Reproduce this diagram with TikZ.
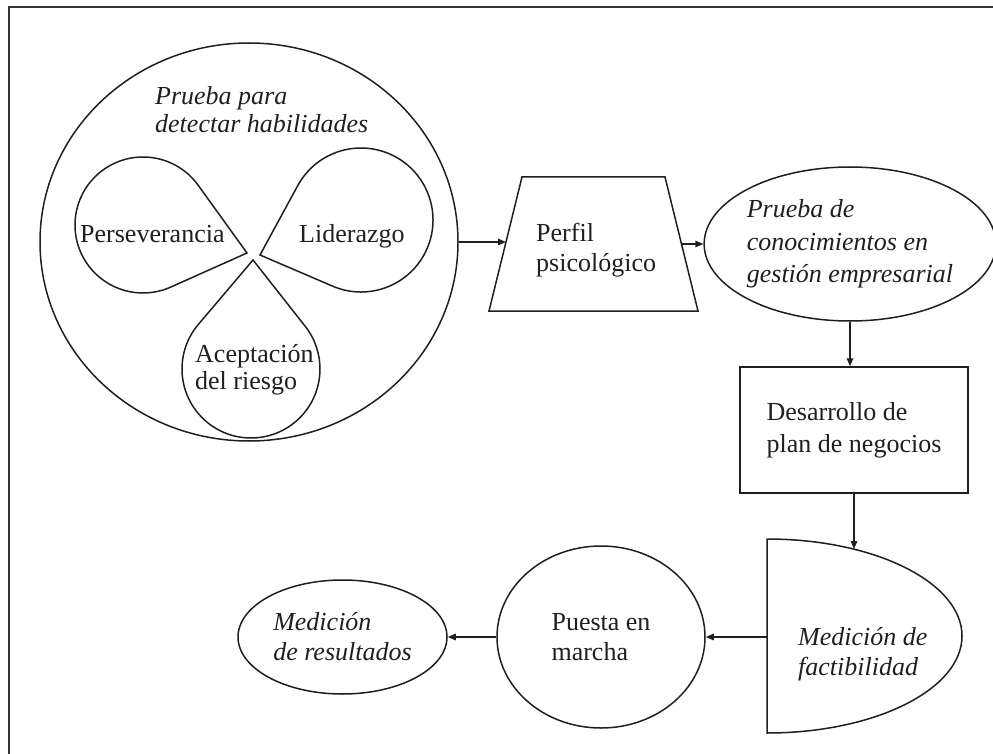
\documentclass[tikz,border=0pt]{standalone}
\usepackage{fontspec}
\setmainfont{Liberation Serif}
\usetikzlibrary{shapes.geometric,arrows.meta}
\tikzset{
  txt/.style={font=\fontsize{26}{30}\selectfont, align=left, inner sep=0pt, text=black!88},
  itx/.style={txt, font=\fontsize{26}{30}\selectfont\itshape},
  shp/.style={draw=black!88, line width=1.5pt},
  arr/.style={draw=black!88, line width=1.4pt, -{Triangle[length=8pt,width=6.5pt]}},
}
\begin{document}
\begin{tikzpicture}[x=1pt,y=1pt]
\useasboundingbox (0,0) rectangle (993,-754);
% frame
\draw[line width=2pt, black!80] (9,-754) -- (9,-7) -- (993,-7);

% big circle with teardrops
\node[shp, ellipse, minimum width=418pt, minimum height=398pt, inner sep=0pt] (test) at (249,-242) {};
\node[itx, anchor=base west, font=\fontsize{26}{28}\selectfont\itshape] (title) at (155,-133) {Prueba para\\detectar habilidades};

\draw[shp] (247,-253) -- ([shift={(143,-225)}]35.78:68) arc[start angle=35.78, end angle=294.08, radius=68] -- cycle;
\draw[shp] (260,-255) -- ([shift={(361,-220)}]246.76:72) arc[start angle=246.76, end angle=511.46, radius=72] -- cycle;
\draw[shp] (253,-260) -- ([shift={(251,-369)}]139.68:69) arc[start angle=139.68, end angle=398.22, radius=69] -- cycle;

\node[txt, anchor=base west] (pers) at (80,-242) {Perseverancia};
\node[txt, anchor=base west] (lid) at (299,-243) {Liderazgo};
\node[txt, anchor=base west, font=\fontsize{26}{27}\selectfont] (acep) at (195,-389) {Aceptación\\del riesgo};

% trapezium
\draw[shp] (489,-311) -- (522,-177) -- (665,-177) -- (698,-311) -- cycle;
\node[txt, anchor=base west] (perfil) at (536,-271) {Perfil\\psicológico};
\coordinate (perfilL) at (506,-242);
\coordinate (perfilR) at (681.5,-244);

% ellipse prueba
\node[shp, itx, ellipse, minimum width=265pt, minimum height=154pt, font=\fontsize{26}{32.5}\selectfont\itshape] (prueba) at (850,-244) {Prueba de\\conocimientos en\\gestión empresarial};

% rectangle plan
\node[shp, txt, rectangle, minimum width=228pt, minimum height=126pt, font=\fontsize{26}{32}\selectfont] (plan) at (854,-430) {Desarrollo de\\plan de negocios};

% D shape
\draw[shp] (767,-539) arc[start angle=90, end angle=-90, x radius=195, y radius=97] -- cycle;
\node[itx, anchor=base west] (fact) at (798,-675) {Medición de\\factibilidad};
\coordinate (factTop) at (854,-549);
\coordinate (factL) at (767,-637);

% puesta en marcha
\node[shp, txt, ellipse, minimum width=208pt, minimum height=182pt] (puesta) at (601,-637) {Puesta en\\marcha};

% medicion de resultados
\node[shp, itx, ellipse, minimum width=209pt, minimum height=114pt] (med) at (342.5,-637) {Medición\\de resultados};

% connectors
\draw[arr] (test.east) -- (perfilL);
\draw[arr] (perfilR) -- (prueba.west);
\draw[arr] (prueba.south) -- (prueba.south |- plan.north);
\draw[arr] (plan.south) -- (factTop);
\draw[arr] (factL) -- (puesta.east);
\draw[arr] (puesta.west) -- (med.east);
\end{tikzpicture}
\end{document}
